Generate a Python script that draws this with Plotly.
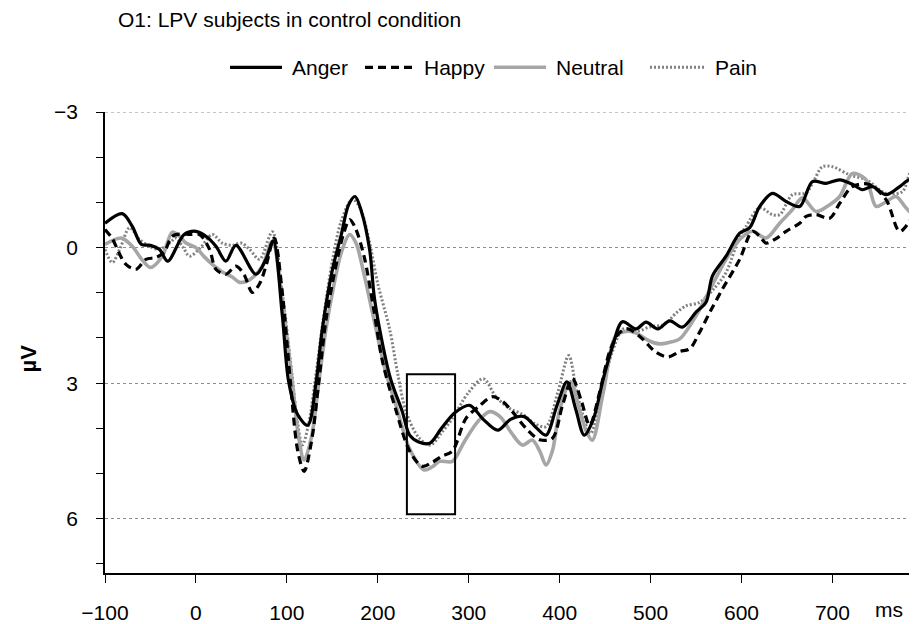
import plotly.graph_objects as go

# ---------------- data ----------------
anger_t = [-100, -81, -70, -60, -50, -40, -31, -13, 0, 11, 22, 33, 44, 66, 77, 85, 95, 102, 112, 123, 132, 139, 150, 160, 168, 175, 182, 191, 196, 202, 214, 227, 235, 245, 257, 270, 285, 301, 316, 332, 346, 361, 375, 385, 397, 408, 418, 427, 437, 448, 458, 469, 484, 495, 508, 521, 535, 550, 561, 568, 583, 598, 609, 620, 634, 649, 664, 678, 693, 708, 722, 733, 744, 759, 774, 785, 793]
anger_v = [-0.54, -0.75, -0.47, -0.07, -0.05, 0.04, 0.30, -0.29, -0.36, -0.25, -0.03, 0.30, -0.05, 0.59, 0.26, -0.15, 1.5, 2.97, 3.7, 3.93, 3.0, 1.8, 0.5, -0.3, -0.95, -1.13, -0.8, 0.04, 1.07, 1.8, 2.9, 3.63, 4.15, 4.3, 4.33, 4.0, 3.65, 3.49, 3.8, 4.04, 3.8, 3.74, 4.0, 4.15, 3.5, 2.97, 3.6, 4.15, 3.8, 2.9, 2.2, 1.64, 1.8, 1.65, 1.8, 1.62, 1.76, 1.43, 1.21, 0.63, 0.19, -0.32, -0.44, -0.91, -1.2, -1.02, -0.91, -1.46, -1.42, -1.50, -1.40, -1.28, -1.35, -1.17, -1.35, -1.50, -1.22]

happy_t = [-100, -92, -85, -77, -66, -55, -44, -35, -26, -15, -7, 4, 15, 22, 33, 44, 53, 62, 70, 77, 86, 95, 104, 112, 119, 127, 135, 143, 155, 163, 169, 175, 185, 195, 205, 220, 235, 249, 260, 270, 282, 297, 312, 326, 337, 348, 363, 378, 392, 403, 414, 424, 433, 444, 455, 465, 475, 490, 505, 519, 532, 543, 554, 566, 579, 598, 612, 620, 627, 638, 649, 664, 671, 682, 697, 708, 722, 740, 759, 774, 789, 793]
happy_v = [-0.4, -0.2, 0.1, 0.37, 0.48, 0.26, 0.22, 0.1, -0.25, -0.3, -0.29, -0.29, 0.04, 0.48, 0.59, 0.41, 0.6, 0.99, 0.8, 0.41, -0.21, 1.0, 3.0, 4.5, 4.95, 4.3, 3.0, 1.6, 0.3, -0.35, -0.62, -0.45, 0.2, 1.3, 2.5, 3.6, 4.5, 4.84, 4.75, 4.62, 4.5, 3.78, 3.5, 3.3, 3.4, 3.63, 4.0, 4.25, 4.22, 3.5, 2.9, 3.4, 3.93, 3.2, 2.3, 1.9, 1.8, 2.0, 2.3, 2.42, 2.3, 2.24, 1.87, 1.4, 0.92, 0.26, -0.36, -0.25, -0.1, -0.2, -0.36, -0.54, -0.69, -0.73, -0.65, -0.98, -1.35, -1.4, -1.06, -0.36, -0.69, -0.75]

neutral_t = [-100, -82, -70, -60, -50, -37, -26, -18, -11, 0, 9, 18, 30, 40, 48, 60, 73, 84, 95, 106, 113, 119, 127, 135, 143, 152, 160, 169, 176, 185, 198, 208, 220, 235, 251, 260, 268, 282, 295, 310, 323, 335, 347, 359, 370, 378, 385, 392, 400, 412, 422, 430, 436, 448, 462, 475, 485, 497, 510, 520, 532, 550, 566, 583, 598, 612, 627, 642, 656, 667, 682, 697, 708, 722, 737, 748, 758, 770, 780, 793]
neutral_v = [-0.07, -0.21, -0.03, 0.25, 0.44, 0.19, -0.34, -0.25, -0.1, 0.0, 0.2, 0.37, 0.55, 0.65, 0.77, 0.7, 0.41, -0.14, 1.2, 2.97, 4.2, 4.7, 4.2, 3.0, 1.8, 0.8, 0.1, -0.29, -0.1, 0.6, 1.8, 2.7, 3.49, 4.45, 4.92, 4.85, 4.73, 4.73, 4.3, 3.85, 3.63, 3.75, 4.1, 4.37, 4.26, 4.5, 4.81, 4.5, 3.6, 2.97, 3.6, 4.1, 4.26, 3.2, 1.95, 1.85, 1.9, 2.05, 2.13, 2.1, 2.02, 1.51, 0.9, 0.26, -0.18, -0.36, -0.21, -0.54, -0.84, -1.1, -0.8, -0.95, -1.13, -1.64, -1.5, -0.91, -1.0, -1.13, -0.9, -0.62]

pain_t = [-100, -92, -83, -73, -62, -51, -40, -29, -22, -14, -7, 5, 18, 29, 40, 50, 59, 70, 84, 95, 105, 112, 117, 124, 132, 140, 150, 160, 172, 180, 190, 200, 213, 222, 231, 245, 258, 270, 282, 300, 316, 330, 345, 360, 373, 385, 398, 410, 420, 434, 447, 458, 470, 485, 500, 515, 528, 539, 554, 570, 583, 598, 605, 620, 634, 642, 656, 671, 680, 689, 700, 719, 737, 759, 777, 785, 793]
pain_v = [0.04, 0.33, 0.0, -0.44, -0.18, -0.03, 0.04, -0.1, -0.21, 0.0, 0.19, 0.0, -0.29, -0.1, -0.05, -0.1, 0.04, 0.26, -0.35, 1.0, 2.7, 3.9, 4.37, 3.9, 2.8, 1.6, 0.3, -0.6, -1.07, -0.9, -0.2, 0.8, 1.8, 2.8, 3.63, 4.2, 4.37, 4.1, 3.78, 3.2, 2.9, 3.3, 3.56, 3.7, 3.9, 3.96, 3.2, 2.39, 3.3, 4.11, 3.1, 2.3, 1.8, 1.85, 1.75, 1.7, 1.45, 1.29, 1.21, 0.9, 0.55, -0.25, -0.47, -0.88, -0.73, -0.73, -1.17, -1.21, -1.5, -1.79, -1.79, -1.61, -1.5, -1.2, -1.24, -1.64, -1.83]

series_names = ["Anger", "Happy", "Neutral", "Pain"]
x_ticks = [-100, 0, 100, 200, 300, 400, 500, 600, 700]
y_ticks = [-3, 0, 3, 6]
y_tick_labels = ["\u22123", "0", "3", "6"]

# analysis window marked with a box
box_ms = [232, 285]
box_uv = [2.8, 5.9]

# ---------------- styles / geometry ----------------
FONT = "Liberation Sans, Arial, sans-serif"
OFF = 8                    # page body margin of the html page
FIG_W, FIG_H = 917 - OFF, 624 - OFF

styles = {
    "Anger": dict(color="#000000", width=3.2, dash="solid"),
    "Happy": dict(color="#000000", width=3.2, dash="8px,5px"),
    "Neutral": dict(color="#a6a6a6", width=3.6, dash="solid"),
    "Pain": dict(color="#808080", width=3.0, dash="2px,2px"),
}
data = {
    "Anger": (anger_t, anger_v),
    "Happy": (happy_t, happy_v),
    "Neutral": (neutral_t, neutral_v),
    "Pain": (pain_t, pain_v),
}

fig = go.Figure()
for name in ["Pain", "Neutral", "Happy", "Anger"]:
    t, v = data[name]
    fig.add_trace(go.Scatter(
        x=t, y=v, name=name, mode="lines",
        line=dict(shape="spline", smoothing=0.9, **styles[name]),
        showlegend=False,
    ))

# analysis-window box
fig.add_shape(type="rect", xref="x", yref="y",
              x0=box_ms[0], x1=box_ms[1], y0=box_uv[0], y1=box_uv[1],
              line=dict(color="black", width=2), fillcolor="rgba(0,0,0,0)")

# top gridline (at the range edge plotly would drop it)
fig.add_shape(type="line", xref="paper", yref="y", x0=0, x1=1,
              y0=y_ticks[0], y1=y_ticks[0], layer="below",
              line=dict(color="#8c8c8c", width=1, dash="dot"))

# plot area in screen pixels
L, R, T, B = 105, 917, 112, 576
W, H = R - L, B - T
def px_x(p):
    return (p - L) / W
def px_y(p):
    return (B - p) / H

legend_items = [("Anger", 230, 282), ("Happy", 365, 414), ("Neutral", 494, 546), ("Pain", 650, 705)]
leg_y = 67
for name, x0, x1 in legend_items:
    st = styles[name]
    fig.add_shape(type="line", xref="paper", yref="paper",
                  x0=px_x(x0), x1=px_x(x1), y0=px_y(leg_y), y1=px_y(leg_y),
                  line=dict(color=st["color"], width=st["width"], dash=st["dash"]))
    fig.add_annotation(xref="paper", yref="paper", x=px_x(x1 + 8), y=px_y(leg_y),
                       text=name, showarrow=False, xanchor="left", yanchor="middle",
                       font=dict(family=FONT, size=21, color="black"))

# y-axis title
fig.add_annotation(xref="paper", yref="paper", x=px_x(28), y=px_y(360),
                   text="<b>µV</b>", textangle=-90, showarrow=False,
                   xanchor="center", yanchor="middle",
                   font=dict(family=FONT, size=22, color="black"))
# unit label for x axis
fig.add_annotation(xref="paper", yref="paper", x=px_x(889), y=px_y(613),
                   text="ms", showarrow=False, xanchor="center", yanchor="middle",
                   font=dict(family=FONT, size=21, color="black"))

fig.update_layout(
    width=FIG_W, height=FIG_H,
    margin=dict(l=L - OFF, r=917 - R, t=T - OFF, b=624 - B, pad=0),
    paper_bgcolor="white", plot_bgcolor="white",
    font=dict(family=FONT, size=21, color="black"),
    title=dict(text="O1: LPV subjects in control condition",
               x=(118 - OFF) / FIG_W, xanchor="left", xref="container",
               y=1 - (20 - OFF) / FIG_H, yanchor="middle", yref="container",
               font=dict(family=FONT, size=21, color="black")),
    showlegend=False,
)
fig.update_xaxes(
    range=[-100, 793], tickvals=x_ticks, ticks="outside", ticklen=8,
    tickwidth=1.3, tickcolor="black", showline=True, linecolor="black",
    linewidth=1.6, showgrid=False, zeroline=False, ticklabelstandoff=12,
    tickfont=dict(family=FONT, size=21),
)
fig.update_yaxes(
    range=[7.2, -3], tickvals=y_ticks, ticktext=y_tick_labels,
    ticks="outside", ticklen=7, tickwidth=1.3, tickcolor="black",
    showline=True, linecolor="black", linewidth=1.6,
    showgrid=True, gridcolor="#8c8c8c", gridwidth=1, griddash="dot",
    zeroline=False, ticklabelstandoff=14,
    minor=dict(tickvals=[-2, -1, 1, 2, 4, 5, 7], ticks="outside", ticklen=7,
               tickwidth=1.3, tickcolor="black", showgrid=False),
    tickfont=dict(family=FONT, size=21),
)

fig.write_html("out.html")
